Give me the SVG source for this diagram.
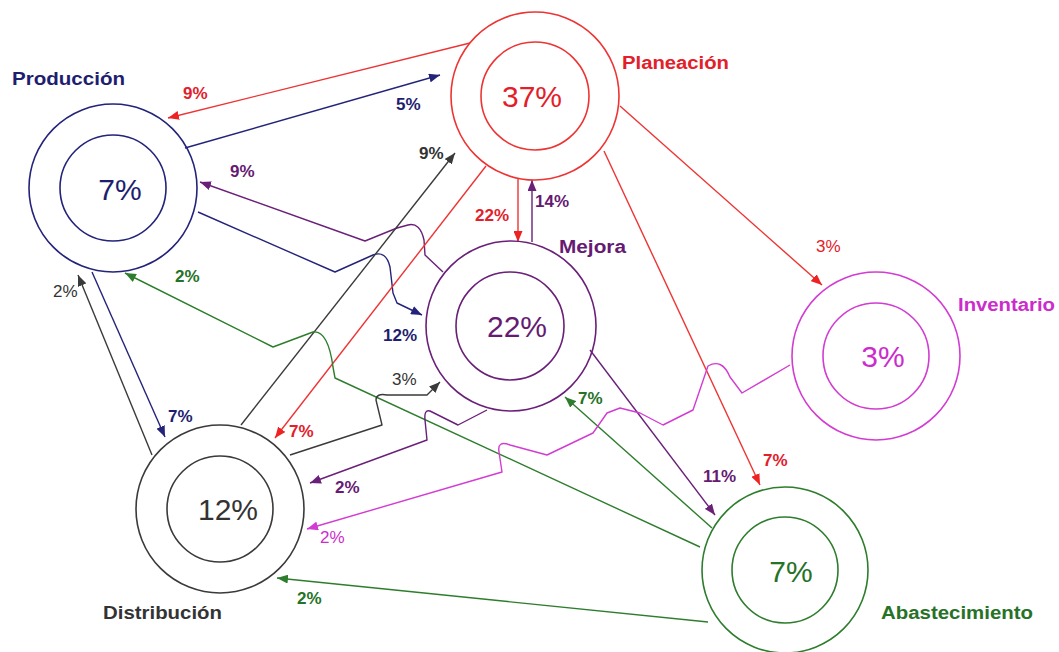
<svg xmlns="http://www.w3.org/2000/svg" width="1059" height="652" viewBox="0 0 1059 652">
<style>
.o{fill:none;stroke-width:1.6}
.c{fill:none;stroke-width:1.4;stroke-linejoin:round}
.t{font-family:"Liberation Sans",Arial,sans-serif}
.big{font-size:30px;text-anchor:middle}
.nm{font-size:18px;font-weight:bold}
.lb{font-size:17px;font-weight:bold}
.lr{font-size:17px}
.nv{stroke:#23237a}.nvf{fill:#1e1e70}
.rd{stroke:#ee3333}.rdf{fill:#e3202a}
.pu{stroke:#6a1f78}.puf{fill:#661a72}
.mg{stroke:#d23cd2}.mgf{fill:#cc2ccc}
.gy{stroke:#3a3a3a}.gyf{fill:#333333}
.gn{stroke:#2d7d2d}.gnf{fill:#267226}
</style>
<defs>
<marker id="aNv" markerUnits="userSpaceOnUse" markerWidth="11" markerHeight="9" refX="11" refY="4.5" orient="auto"><path d="M0,0 L11,4.5 L0,9 z" fill="#23237a"/></marker>
<marker id="aRd" markerUnits="userSpaceOnUse" markerWidth="11" markerHeight="9" refX="11" refY="4.5" orient="auto"><path d="M0,0 L11,4.5 L0,9 z" fill="#ee2222"/></marker>
<marker id="aPu" markerUnits="userSpaceOnUse" markerWidth="11" markerHeight="9" refX="11" refY="4.5" orient="auto"><path d="M0,0 L11,4.5 L0,9 z" fill="#6a1f78"/></marker>
<marker id="aMg" markerUnits="userSpaceOnUse" markerWidth="11" markerHeight="9" refX="11" refY="4.5" orient="auto"><path d="M0,0 L11,4.5 L0,9 z" fill="#d23cd2"/></marker>
<marker id="aGy" markerUnits="userSpaceOnUse" markerWidth="11" markerHeight="9" refX="11" refY="4.5" orient="auto"><path d="M0,0 L11,4.5 L0,9 z" fill="#3a3a3a"/></marker>
<marker id="aGn" markerUnits="userSpaceOnUse" markerWidth="11" markerHeight="9" refX="11" refY="4.5" orient="auto"><path d="M0,0 L11,4.5 L0,9 z" fill="#2d7d2d"/></marker>
</defs>
<rect width="1059" height="652" fill="#ffffff"/>

<g id="connectors">
<path class="c rd" d="M470 43 L168 118" marker-end="url(#aRd)"/>
<path class="c nv" d="M185 148 L440 75" marker-end="url(#aNv)"/>
<path class="c pu" d="M443 272 L425 255 L424 240 Q420 222 408 225 L397 228 L365 241 L200 182" marker-end="url(#aPu)"/>
<path class="c nv" d="M198 212 L335 272 L373 255 Q386 250 390 267 L393 293 L397 303 L422 315" marker-end="url(#aNv)"/>
<path class="c gy" d="M241 425 L455 153" marker-end="url(#aGy)"/>
<path class="c rd" d="M486 166 L275 438" marker-end="url(#aRd)"/>
<path class="c rd" d="M518 178 L518 242" marker-end="url(#aRd)"/>
<path class="c pu" d="M532 242 L532 180" marker-end="url(#aPu)"/>
<path class="c rd" d="M620 106 L822 285" marker-end="url(#aRd)"/>
<path class="c rd" d="M604 151 L760 485" marker-end="url(#aRd)"/>
<path class="c pu" d="M590 350 L715 515" marker-end="url(#aPu)"/>
<path class="c gn" d="M712 528 L565 397" marker-end="url(#aGn)"/>
<path class="c gn" d="M700 547 L335 378 L333 367 Q328 330 313 332 L273 347 L125 273" marker-end="url(#aGn)"/>
<path class="c gy" d="M152 455 L78 275" marker-end="url(#aGy)"/>
<path class="c nv" d="M92 272 L165 437" marker-end="url(#aNv)"/>
<path class="c gy" d="M290 455 L382 425 L376 400 Q376 393 387 395 L427 395 L440 382" marker-end="url(#aGy)"/>
<path class="c pu" d="M487 410 L458 425 L430 411 Q424 409 425 420 L427 440 L310 483" marker-end="url(#aPu)"/>
<path class="c mg" d="M790 365 L742 393 L730 377 Q722 358 708 366 L693 410 L663 425 L640 413 L620 408 L607 413 L593 433 L547 455 L510 445 Q497 440 499 452 L502 472 L307 529" marker-end="url(#aMg)"/>
<path class="c gn" d="M708 622 L277 578" marker-end="url(#aGn)"/>
</g>

<g id="labels" class="t">
<text class="lb rdf" x="183" y="99">9%</text>
<text class="lb nvf" x="396" y="110">5%</text>
<text class="lb puf" x="230" y="177">9%</text>
<text class="lb gyf" x="419" y="159">9%</text>
<text class="lb rdf" x="475" y="221">22%</text>
<text class="lb puf" x="535" y="207">14%</text>
<text class="lb gnf" x="175" y="282">2%</text>
<text class="lr gyf" x="53" y="297">2%</text>
<text class="lb nvf" x="383" y="341">12%</text>
<text class="lr rdf" x="816" y="252">3%</text>
<text class="lr gyf" x="392" y="385">3%</text>
<text class="lb nvf" x="168" y="422">7%</text>
<text class="lb rdf" x="289" y="437">7%</text>
<text class="lb gnf" x="578" y="404">7%</text>
<text class="lb rdf" x="763" y="466">7%</text>
<text class="lb puf" x="703" y="482">11%</text>
<text class="lb puf" x="335" y="493">2%</text>
<text class="lr mgf" x="320" y="543">2%</text>
<text class="lb gnf" x="297" y="604">2%</text>
</g>

<g id="produccion">
<circle class="o nv" cx="113" cy="188" r="84"/>
<circle class="o nv" cx="113" cy="188" r="53"/>
<text class="t big nvf" x="120" y="200">7%</text>
<text class="t nm nvf" x="12" y="85" textLength="113" lengthAdjust="spacingAndGlyphs">Producción</text>
</g>

<g id="planeacion">
<circle class="o rd" cx="535" cy="96" r="84"/>
<circle class="o rd" cx="535" cy="96" r="54"/>
<text class="t big rdf" x="532" y="107">37%</text>
<text class="t nm rdf" x="622" y="69" textLength="107" lengthAdjust="spacingAndGlyphs">Planeación</text>
</g>

<g id="mejora">
<circle class="o pu" cx="511" cy="326" r="85"/>
<circle class="o pu" cx="510" cy="326" r="54"/>
<text class="t big puf" x="517" y="337">22%</text>
<text class="t nm puf" x="559" y="253" textLength="67" lengthAdjust="spacingAndGlyphs">Mejora</text>
</g>

<g id="inventario">
<circle class="o mg" cx="876" cy="356" r="84"/>
<circle class="o mg" cx="876" cy="356" r="53"/>
<text class="t big mgf" x="883" y="367">3%</text>
<text class="t nm mgf" x="958" y="311" textLength="97" lengthAdjust="spacingAndGlyphs">Inventario</text>
</g>

<g id="distribucion">
<circle class="o gy" cx="220" cy="509" r="84"/>
<circle class="o gy" cx="220" cy="509" r="53"/>
<text class="t big gyf" x="228" y="520">12%</text>
<text class="t nm gyf" x="103" y="619" textLength="119" lengthAdjust="spacingAndGlyphs">Distribución</text>
</g>

<g id="abastecimiento">
<circle class="o gn" cx="785" cy="570" r="83"/>
<circle class="o gn" cx="785" cy="570" r="53"/>
<text class="t big gnf" x="791" y="582">7%</text>
<text class="t nm gnf" x="881" y="619" textLength="152" lengthAdjust="spacingAndGlyphs">Abastecimiento</text>
</g>
</svg>
